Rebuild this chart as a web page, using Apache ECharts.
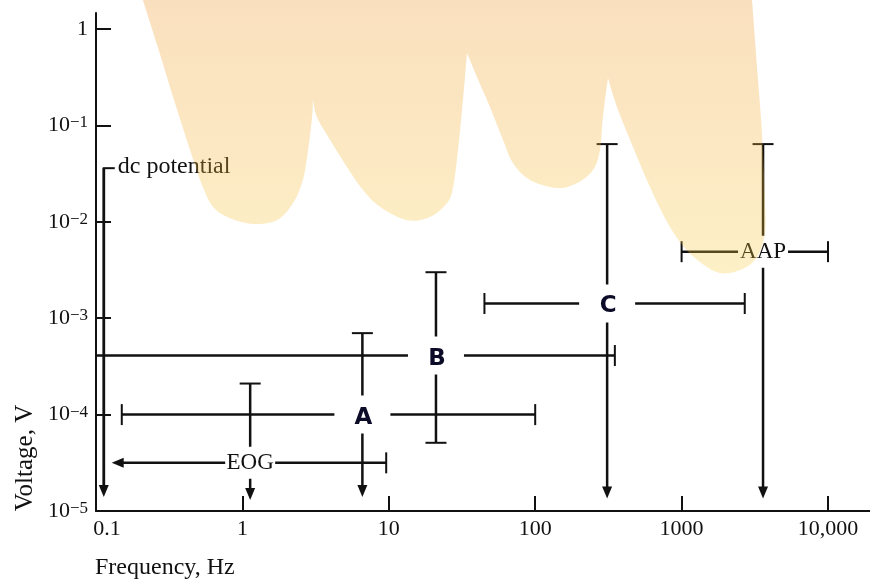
<!DOCTYPE html>
<html><head><meta charset="utf-8">
<script src="https://cdn.jsdelivr.net/npm/echarts@6/dist/echarts.min.js"></script>
<style>html,body{margin:0;padding:0;background:#fff}#c{width:870px;height:580px}</style>
</head><body><div id="c"></div>
<script>
// ---------- DATA ----------
const xTickValues = [0.1, 1, 10, 100, 1000, 10000];
const xTickLabels = ['0.1', '1', '10', '100', '1000', '10,000'];
const yTickValues = [1e-5, 1e-4, 1e-3, 1e-2, 1e-1, 1];
const yTickBase = ['10', '10', '10', '10', '10', '1'];
const yTickExp = ['−5', '−4', '−3', '−2', '−1', ''];

const bandNames = ['A', 'B', 'C', 'AAP', 'EOG'];
const bandFreq = [6.6, 21, 310, 3600, 1.13];
const bandVolt = [1.0e-4, 4.1e-4, 1.42e-3, 4.9e-3, 3.16e-5];
const freqLow = [0.15, 0.1, 45, 1000, 0.128];
const freqHigh = [100, 350, 2700, 10000, 9.6];
const voltLow = [1.4e-5, 5.1e-5, 1.35e-5, 1.35e-5, 1.3e-5];
const voltHigh = [7.0e-4, 3.0e-3, 0.064, 0.064, 2.1e-4];
const freqLowEnd = ['cap', 'none', 'cap', 'cap', 'arrow'];
const freqHighEnd = ['cap', 'cap', 'cap', 'cap', 'cap'];
const voltLowEnd = ['arrow', 'cap', 'arrow', 'arrow', 'arrow'];
const voltHighEnd = ['cap', 'cap', 'cap', 'cap', 'cap'];
const bandLabelKind = ['bold', 'bold', 'bold', 'serif', 'serif'];

const dcName = 'dc potential';
const dcFreq = [0.113];
const dcVoltHigh = [0.036];
const dcVoltLow = [1.4e-5];

const shadeFreq = [0.209, 0.268, 0.341, 0.439, 0.530, 0.630, 0.822, 1.18, 1.72, 2.22, 2.59, 2.81, 2.99, 3.03,
  3.23, 3.97, 5.18, 6.66, 8.71, 13.3, 19.1, 25.0, 27.5, 29.7, 32.1, 34.2,
  40.0, 49.1, 60.3, 70.5, 92.1, 141, 193, 248, 277, 290, 314,
  362, 445, 608, 834, 1140, 1746, 2506, 3273, 3707, 3707, 3540, 3273, 3027];
const shadeVolt = [2.0, 0.605, 0.184, 0.0556, 0.0241, 0.0143, 0.0109, 0.0095, 0.0104, 0.0157, 0.0272, 0.0556, 0.122, 0.184,
  0.122, 0.0706, 0.0370, 0.0214, 0.0143, 0.0104, 0.0112, 0.0157, 0.0230, 0.0556, 0.184, 0.564,
  0.318, 0.155, 0.0706, 0.0407, 0.0272, 0.0224, 0.0252, 0.0344, 0.0556, 0.122, 0.310,
  0.155, 0.0706, 0.0230, 0.0088, 0.0047, 0.0030, 0.00316, 0.0043, 0.0077, 0.0168, 0.0834, 0.404, 2.0];
// indices of sharp corners in the shaded boundary (cusps between lobes)
const shadeCorners = [0, 13, 25, 36, 49];

// ---------- STYLE ----------
const INK = '#111';
const LW = 2.5;
const CAP = 21;
const ARW = 12, ARH = 5;
const SERIF = '"Liberation Serif", "Times New Roman", serif';
const SANS = '"DejaVu Sans", sans-serif';
const labelBox = { bold: [56, 38], serif: [50, 32] };

function nearest(arr, v) {
  let best = 0, bd = Infinity;
  arr.forEach((a, k) => { const d = Math.abs(Math.log10(a) - Math.log10(v)); if (d < bd) { bd = d; best = k; } });
  return best;
}

function addEnd(ch, p, kind, dir) {
  const st = { stroke: INK, lineWidth: 2 };
  if (kind === 'cap') {
    if (dir === 'left' || dir === 'right') ch.push({ type: 'line', shape: { x1: p[0], y1: p[1] - CAP / 2, x2: p[0], y2: p[1] + CAP / 2 }, style: st });
    else ch.push({ type: 'line', shape: { x1: p[0] - CAP / 2, y1: p[1], x2: p[0] + CAP / 2, y2: p[1] }, style: st });
  } else if (kind === 'arrow') {
    let pts;
    if (dir === 'down') pts = [[p[0], p[1]], [p[0] - ARH, p[1] - ARW], [p[0] + ARH, p[1] - ARW]];
    else if (dir === 'left') pts = [[p[0], p[1]], [p[0] + ARW, p[1] - ARH], [p[0] + ARW, p[1] + ARH]];
    ch.push({ type: 'polygon', shape: { points: pts }, style: { fill: INK } });
  }
}

function renderBand(params, api) {
  const i = params.dataIndex;
  const c = api.coord([bandFreq[i], bandVolt[i]]);
  const l = api.coord([freqLow[i], bandVolt[i]]);
  const r = api.coord([freqHigh[i], bandVolt[i]]);
  const t = api.coord([bandFreq[i], voltHigh[i]]);
  const b = api.coord([bandFreq[i], voltLow[i]]);
  const st = { stroke: INK, lineWidth: LW };
  const ch = [];
  const lx = freqLowEnd[i] === 'arrow' ? l[0] + ARW - 2 : l[0];
  const by = voltLowEnd[i] === 'arrow' ? b[1] - ARW + 2 : b[1];
  ch.push({ type: 'line', shape: { x1: lx, y1: c[1], x2: r[0], y2: c[1] }, style: st });
  ch.push({ type: 'line', shape: { x1: c[0], y1: t[1], x2: c[0], y2: by }, style: st });
  addEnd(ch, l, freqLowEnd[i], 'left');
  addEnd(ch, r, freqHighEnd[i], 'right');
  addEnd(ch, t, voltHighEnd[i], 'up');
  addEnd(ch, b, voltLowEnd[i], 'down');
  const kind = bandLabelKind[i];
  const box = labelBox[kind];
  ch.push({ type: 'rect', shape: { x: c[0] - box[0] / 2, y: c[1] - box[1] / 2, width: box[0], height: box[1] }, style: { fill: '#fff' } });
  ch.push({
    type: 'text', x: c[0] + (kind === 'bold' ? 1 : 0), y: c[1] + (kind === 'bold' ? 3 : 0),
    style: {
      text: bandNames[i], align: 'center', verticalAlign: 'middle',
      fontFamily: kind === 'bold' ? SANS : SERIF, fontSize: kind === 'bold' ? 23 : 23,
      fontWeight: kind === 'bold' ? 'bold' : 'normal', fill: kind === 'bold' ? '#0c0c28' : INK
    }
  });
  return { type: 'group', children: ch };
}

function renderDc(params, api) {
  const i = params.dataIndex;
  const t = api.coord([dcFreq[i], dcVoltHigh[i]]);
  const b = api.coord([dcFreq[i], dcVoltLow[i]]);
  const ch = [];
  ch.push({ type: 'line', shape: { x1: t[0], y1: t[1], x2: t[0], y2: b[1] - ARW + 2 }, style: { stroke: INK, lineWidth: 2.8 } });
  ch.push({ type: 'line', shape: { x1: t[0] - 1, y1: t[1], x2: t[0] + 11, y2: t[1] }, style: { stroke: INK, lineWidth: 2 } });
  addEnd(ch, b, 'arrow', 'down');
  ch.push({ type: 'text', x: t[0] + 14, y: t[1] - 1, style: { text: dcName, align: 'left', verticalAlign: 'middle', fontFamily: SERIF, fontSize: 24, fill: INK } });
  return { type: 'group', children: ch };
}

// Catmull-Rom smoothing between sharp corners (pixel space)
function smoothRun(pts) {
  const out = [];
  const n = pts.length;
  for (let i = 0; i < n - 1; i++) {
    const p0 = pts[Math.max(i - 1, 0)], p1 = pts[i], p2 = pts[i + 1], p3 = pts[Math.min(i + 2, n - 1)];
    const steps = 10;
    for (let s = 0; s < steps; s++) {
      const t = s / steps, t2 = t * t, t3 = t2 * t;
      const f = (a, b, c, d) => 0.5 * ((2 * b) + (-a + c) * t + (2 * a - 5 * b + 4 * c - d) * t2 + (-a + 3 * b - 3 * c + d) * t3);
      out.push([f(p0[0], p1[0], p2[0], p3[0]), f(p0[1], p1[1], p2[1], p3[1])]);
    }
  }
  out.push(pts[n - 1]);
  return out;
}

function renderShade(params, api) {
  if (params.dataIndex !== 0) return null;
  const pts = shadeFreq.map((f, k) => api.coord([f, shadeVolt[k]]));
  let poly = [];
  for (let c = 0; c < shadeCorners.length - 1; c++) {
    const run = smoothRun(pts.slice(shadeCorners[c], shadeCorners[c + 1] + 1));
    if (c > 0) run.shift();
    poly = poly.concat(run);
  }
  return {
    type: 'polygon', shape: { points: poly },
    style: {
      fill: new echarts.graphic.LinearGradient(0, 0, 0, 1, [
        { offset: 0, color: 'rgba(238,150,40,0.30)' },
        { offset: 1, color: 'rgba(248,205,65,0.30)' }
      ])
    }
  };
}

const chart = echarts.init(document.getElementById('c'), null, { renderer: 'canvas' });
const tickFont = { fontFamily: SERIF, fontSize: 22, color: INK };
const option = {
  animation: false,
  backgroundColor: '#fff',
  grid: [
    { left: 96, right: 0, top: 13, bottom: 69, containLabel: false },
    { left: 96, right: 0, top: 0, bottom: 69, containLabel: false }
  ],
  xAxis: [
    {
      type: 'log', logBase: 10, min: 0.1, max: 19360, gridIndex: 0,
      axisLine: { show: true, lineStyle: { color: INK, width: 2 } },
      axisTick: { show: true, inside: true, length: 15, lineStyle: { color: INK, width: 2 }, customValues: xTickValues },
      axisLabel: {
        show: true, margin: 7, customValues: xTickValues,
        formatter: (v) => { const k = nearest(xTickValues, v); return (k === 0 ? '{f|' : '{n|') + xTickLabels[k] + '}'; },
        rich: { f: Object.assign({ padding: [0, 0, 0, 22] }, tickFont), n: Object.assign({}, tickFont) }
      },
      splitLine: { show: false }, minorTick: { show: false }
    },
    { type: 'log', logBase: 10, min: 0.1, max: 19360, gridIndex: 1, show: false }
  ],
  yAxis: [
    {
      type: 'log', logBase: 10, min: 1e-5, max: 1.466, gridIndex: 0,
      axisLine: { show: true, lineStyle: { color: INK, width: 2 } },
      axisTick: { show: true, inside: true, length: 15, lineStyle: { color: INK, width: 2 }, customValues: yTickValues },
      axisLabel: {
        show: true, margin: 8, customValues: yTickValues,
        formatter: (v) => { const k = nearest(yTickValues, v); return '{b|' + yTickBase[k] + '}' + (yTickExp[k] ? '{s|' + yTickExp[k] + '}' : ''); },
        rich: {
          b: Object.assign({}, tickFont),
          s: { fontFamily: SERIF, fontSize: 17, color: INK, verticalAlign: 'top' }
        }
      },
      splitLine: { show: false }, minorTick: { show: false }
    },
    { type: 'log', logBase: 10, min: 1e-5, max: 2.0, gridIndex: 1, show: false }
  ],
  graphic: [
    { type: 'text', left: 95, top: 556, style: { text: 'Frequency, Hz', fontFamily: SERIF, fontSize: 24, fill: INK } },
    { type: 'text', x: 25, y: 458, rotation: Math.PI / 2, style: { text: 'Voltage, V', fontFamily: SERIF, fontSize: 25, fill: INK, align: 'center', verticalAlign: 'middle' } }
  ],
  series: [
    { type: 'custom', name: 'bands', xAxisIndex: 0, yAxisIndex: 0, z: 3, renderItem: renderBand,
      data: bandFreq.map((f, i) => [f, bandVolt[i]]) },
    { type: 'custom', name: 'dc', xAxisIndex: 0, yAxisIndex: 0, z: 3, renderItem: renderDc,
      data: dcFreq.map((f, i) => [f, dcVoltHigh[i]]) },
    { type: 'custom', name: 'shade', xAxisIndex: 1, yAxisIndex: 1, z: 10, silent: true, renderItem: renderShade,
      data: shadeFreq.map((f, k) => [f, shadeVolt[k]]) }
  ]
};
chart.setOption(option);
</script>
</body></html>
